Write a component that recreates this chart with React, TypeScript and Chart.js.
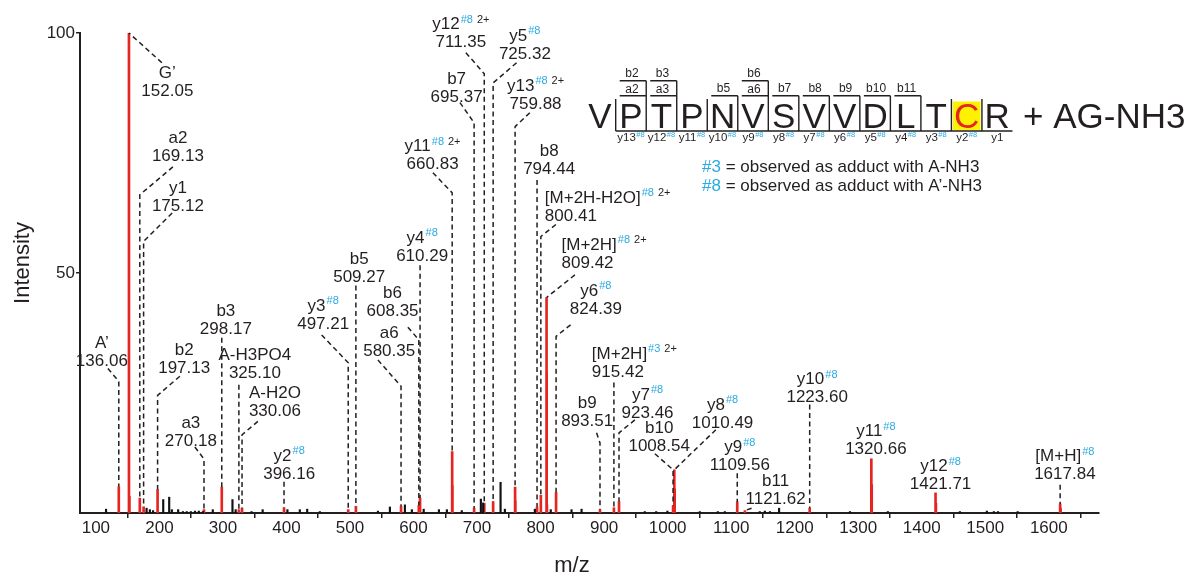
import React, { useEffect, useRef } from "react";
import { Chart, registerables } from "chart.js";

Chart.register(...registerables);

const FONT = "'Liberation Sans', Arial, Helvetica, sans-serif";
const INK = "#231f20";
const RED = "#e52521";
const BLUE = "#29abe2";

// ---------- axis ----------
const X_MIN = 75;
const X_MAX = 1679;
const Y_MIN = 0;
const Y_MAX = 100;
const xTickValues = [100, 200, 300, 400, 500, 600, 700, 800, 900, 1000, 1100, 1200, 1300, 1400, 1500, 1600];
const yTickValues = [50, 100];
const xTitle = "m/z";
const yTitle = "Intensity";

// ---------- assigned peaks ----------
const peakMz = [136.06, 152.05, 169.13, 175.12, 197.13, 270.18, 298.17, 325.10, 330.06, 396.16, 497.21, 509.27, 580.35, 608.35, 610.29, 660.83, 695.37, 711.35, 725.32, 759.88, 794.44, 800.41, 809.42, 824.39, 893.51, 915.42, 923.46, 1008.54, 1010.49, 1109.56, 1121.62, 1223.60, 1320.66, 1421.71, 1617.84];
const peakIntensity = [5.5, 100, 3.1, 1.3, 4.9, 0.7, 5.4, 0.7, 1.0, 1.1, 0.7, 1.4, 1.4, 1.6, 3.1, 12.8, 1.0, 2.0, 2.4, 5.4, 1.3, 3.7, 44.9, 4.3, 0.7, 1.1, 2.4, 1.5, 9.0, 2.3, 0.5, 1.0, 11.3, 4.2, 1.9];
const peakName = ["A\u2019", "G\u2019", "a2", "y1", "b2", "a3", "b3", "A-H3PO4", "A-H2O", "y2", "y3", "b5", "a6", "b6", "y4", "y11", "b7", "y12", "y5", "y13", "b8", "[M+2H-H2O]", "[M+2H]", "y6", "b9", "[M+2H]", "y7", "b10", "y8", "y9", "b11", "y10", "y11", "y12", "[M+H]"];
const peakTag = ["", "", "", "", "", "", "", "", "", "#8", "#8", "", "", "", "#8", "#8", "", "#8", "#8", "#8", "", "#8", "#8", "#8", "", "#3", "#8", "", "#8", "#8", "", "#8", "#8", "#8", "#8"];
const peakCharge = ["", "", "", "", "", "", "", "", "", "", "", "", "", "", "", "2+", "", "2+", "", "2+", "", "2+", "2+", "", "", "2+", "", "", "", "", "", "", "", "", ""];

// isotope peaks of assigned ions
const isotopeMz = [153.05, 661.33, 760.38, 809.92, 810.42, 1011.49, 1321.66, 1422.71, 1618.84];
const isotopeIntensity = [3.5, 5.7, 2.5, 29.5, 1.7, 5.0, 5.9, 2.0, 1.0];

// unassigned peaks
const noiseMz = [116, 179.8, 185, 190, 206, 215.4, 219.6, 229.5, 237, 243, 249.5, 256, 262, 268.5, 284, 315, 320, 345, 362.5, 401.5, 421, 432.6, 452.5, 544, 562.8, 586.4, 597.4, 616, 640, 652.5, 676, 706, 709.6, 737, 743.8, 791, 816, 848.7, 864.5, 964, 982, 999.6, 1050.6, 1079, 1090, 1145, 1153, 1161, 1175.4, 1287, 1346.6, 1460, 1502.5, 1513.5, 1520, 1551];
const noiseIntensity = [0.8, 1.0, 0.7, 0.5, 2.8, 3.3, 0.7, 0.7, 0.3, 0.3, 0.3, 0.4, 0.4, 0.3, 0.7, 2.8, 0.7, 0.3, 0.7, 0.7, 0.7, 0.8, 0.3, 0.4, 1.25, 1.7, 0.7, 0.8, 0.7, 0.7, 0.5, 2.9, 2.1, 6.4, 0.8, 0.8, 0.7, 0.7, 0.8, 0.3, 0.3, 0.4, 0.3, 0.3, 0.3, 0.3, 0.4, 0.3, 1.0, 0.3, 0.3, 0.3, 0.4, 0.3, 0.3, 0.3];

// ---------- label layout (in data units): [labelMz, labelIntensity, align, elbowIntensity, leaderMz, leaderIntensity] ----------
const labelLayout: any[] = [
  [109.4, 31.7, "c", 27.4, 118.9, 30.1],
  [212.5, 87.8, "c", 100, 203.9, 93.8],
  [229.1, 74.3, "c", 66.3, 221.2, 72.1],
  [229.1, 63.8, "c", 56.6, 220.1, 62.5],
  [239.0, 30.1, "c", 24.5, 232.2, 28.5],
  [249.5, 14.9, "c", 11.25, 255.8, 13.75],
  [304.6, 38.3, "c", 36.5, null, null],
  [350.3, 29.0, "c", 26.7, null, null],
  [381.8, 21.2, "c", 16.3, 355.0, 19.1],
  [404.3, 8.1, "c", 6.5, null, null],
  [457.8, 39.4, "c", 31.3, 455.3, 37.1],
  [514.5, 49.2, "c", 47.4, null, null],
  [561.7, 33.7, "c", 26.4, 543.9, 31.9],
  [567.0, 42.0, "c", 36.1, 591.1, 38.7],
  [613.6, 53.5, "c", 51.6, null, null],
  [630.0, 72.6, "c", 66.7, 630.5, 70.9],
  [667.8, 86.6, "c", 81.3, 673.0, 85.5],
  [674.5, 98.0, "c", 91.5, 682.4, 95.9],
  [775.3, 95.6, "c", 89.6, 762.2, 93.8],
  [792.1, 85.2, "c", 80.5, 783.1, 83.4],
  [813.5, 71.5, "c", 69.4, null, null],
  [806.7, 61.9, "l", 57.6, 824.1, 60.1],
  [833.0, 52.1, "l", 44.9, 854.0, 49.6],
  [887.0, 42.5, "c", 36.8, 847.2, 39.2],
  [873.3, 19.1, "c", 14.6, 888.1, 16.7],
  [880.7, 29.3, "l", 27.2, null, null],
  [968.4, 20.8, "c", 16.7, 948.4, 19.4],
  [986.7, 13.9, "c", 9.0, 979.9, 12.35],
  [1086.5, 18.75, "c", 9.0, 1075.9, 17.35],
  [1113.7, 9.85, "c", 8.3, null, null],
  [1169.9, 2.8, "c", 0.5, 1132.1, 1.0],
  [1235.4, 24.0, "c", 22.6, null, null],
  [1327.8, 13.2, "c", null, null, null],
  [1429.6, 5.9, "c", null, null, null],
  [1625.3, 8.0, "c", 5.9, null, null],
];

// ---------- peptide fragment map ----------
const sequence = ["V", "P", "T", "P", "N", "V", "S", "V", "V", "D", "L", "T", "C", "R"];
const bIons = [2, 3, 5, 6, 7, 8, 9, 10, 11];
const aIons = [2, 3, 6];
const yIonTags = ["#8", "#8", "#8", "#8", "#8", "#8", "#8", "#8", "#8", "#8", "#8", "#8", ""]; // y13 ... y1
const modifiedResidue = 13;
const modificationText = "+ AG-NH3";
const legendLines = [
  ["#3", " = observed as adduct with A-NH3"],
  ["#8", " = observed as adduct with A\u2019-NH3"],
];

function font(size: number) {
  return `${size}px ${FONT}`;
}

function drawPeakLabel(ctx: CanvasRenderingContext2D, x: number, y: number, align: string, name: string, tag: string, charge: string, valueText: string) {
  ctx.textBaseline = "middle";
  ctx.font = font(17);
  const wName = ctx.measureText(name).width;
  const wVal = ctx.measureText(valueText).width;
  ctx.font = font(11);
  const wTag = tag ? ctx.measureText(tag).width + 1 : 0;
  const wCh = charge ? ctx.measureText(charge).width + 4 : 0;
  const total = wName + wTag + wCh;
  const nameStart = align === "l" ? x : x - total / 2;
  const valStart = align === "l" ? x : x - wVal / 2;
  const ny = y - 18;
  ctx.textAlign = "left";
  ctx.fillStyle = INK;
  ctx.font = font(17);
  ctx.fillText(valueText, valStart, y);
  ctx.fillText(name, nameStart, ny);
  ctx.font = font(11);
  if (tag) {
    ctx.fillStyle = BLUE;
    ctx.fillText(tag, nameStart + wName + 1, ny - 5);
  }
  if (charge) {
    ctx.fillStyle = INK;
    ctx.fillText(charge, nameStart + wName + wTag + 4, ny - 5);
  }
}

function drawPeptide(ctx: CanvasRenderingContext2D) {
  const x0 = 615.7;
  const w = 30.52;
  const bottom = 131;
  const topY = 99;
  const levelHigh = 80.7;
  const levelLow = 95.7;
  const left = (i: number) => x0 + (i - 2) * w; // 1-based residue index i >= 2
  ctx.save();
  // highlighted residue background
  const hl = left(modifiedResidue);
  ctx.fillStyle = "#fff200";
  ctx.fillRect(hl + 1.5, 101.5, w - 3, 28.5);
  // letters
  ctx.font = font(35);
  ctx.textAlign = "center";
  ctx.textBaseline = "alphabetic";
  sequence.forEach((aa, k) => {
    const i = k + 1;
    const cx = i === 1 ? 600 : left(i) + w / 2;
    ctx.fillStyle = i === modifiedResidue ? RED : INK;
    ctx.fillText(aa, cx, 127.5);
  });
  ctx.textAlign = "left";
  ctx.fillStyle = INK;
  ctx.fillText(modificationText, 1023, 127.5);
  // lines
  ctx.strokeStyle = INK;
  ctx.lineWidth = 1.4;
  ctx.beginPath();
  ctx.moveTo(left(2), bottom);
  ctx.lineTo(left(sequence.length) + w, bottom);
  for (let i = 2; i <= sequence.length; i++) {
    const n = i - 1; // cleavage after residue n
    let top = topY;
    if (bIons.includes(n)) top = aIons.includes(n) ? levelHigh : levelLow;
    ctx.moveTo(left(i), bottom);
    ctx.lineTo(left(i), top);
  }
  bIons.forEach((n) => {
    const lvl = aIons.includes(n) ? levelHigh : levelLow;
    ctx.moveTo(left(n) + 4, lvl);
    ctx.lineTo(left(n) + w, lvl);
  });
  aIons.forEach((n) => {
    ctx.moveTo(left(n) + 4, levelLow);
    ctx.lineTo(left(n) + w, levelLow);
  });
  ctx.stroke();
  // b / a labels
  ctx.font = font(12);
  ctx.textAlign = "center";
  ctx.textBaseline = "middle";
  ctx.fillStyle = INK;
  bIons.forEach((n) => {
    const lvl = aIons.includes(n) ? levelHigh : levelLow;
    ctx.fillText("b" + n, left(n) + w / 2 + 1, lvl - 7.5);
  });
  aIons.forEach((n) => {
    ctx.fillText("a" + n, left(n) + w / 2 + 1, levelLow - 6.5);
  });
  // y labels
  for (let i = 2; i <= sequence.length; i++) {
    const yn = sequence.length + 1 - i;
    const tag = yIonTags[i - 2];
    const cx = left(i) + w / 2;
    ctx.font = font(11.5);
    const t = "y" + yn;
    const wt = ctx.measureText(t).width;
    ctx.font = font(7.5);
    const wg = tag ? ctx.measureText(tag).width + 0.5 : 0;
    const start = cx - (wt + wg) / 2;
    ctx.textAlign = "left";
    ctx.font = font(11.5);
    ctx.fillStyle = INK;
    ctx.fillText(t, start, 137.5);
    if (tag) {
      ctx.font = font(7.5);
      ctx.fillStyle = BLUE;
      ctx.fillText(tag, start + wt + 0.5, 134.5);
    }
  }
  // legend
  ctx.textAlign = "left";
  ctx.textBaseline = "middle";
  legendLines.forEach((ln, k) => {
    const y = 167.3 + k * 19.4;
    ctx.font = font(17);
    ctx.fillStyle = BLUE;
    ctx.fillText(ln[0], 702, y);
    const w0 = ctx.measureText(ln[0]).width;
    ctx.fillStyle = INK;
    ctx.fillText(ln[1], 702 + w0, y);
  });
  ctx.restore();
}

const overlayPlugin = {
  id: "overlay",
  afterDatasetsDraw(chart: any) {
    const ctx: CanvasRenderingContext2D = chart.ctx;
    const xs = chart.scales.x;
    const ys = chart.scales.y;
    ctx.save();
    // leader lines
    ctx.strokeStyle = INK;
    ctx.lineWidth = 1.5;
    ctx.setLineDash([5, 3.5]);
    peakMz.forEach((mz, i) => {
      const L = labelLayout[i];
      const elbow = L[3];
      if (elbow == null) return;
      const px = xs.getPixelForValue(mz);
      const top = ys.getPixelForValue(peakIntensity[i]);
      const ey = ys.getPixelForValue(elbow);
      ctx.beginPath();
      if (L[4] != null) {
        ctx.moveTo(xs.getPixelForValue(L[4]), ys.getPixelForValue(L[5]));
        ctx.lineTo(px, ey);
      } else {
        ctx.moveTo(px, ey);
      }
      ctx.lineTo(px, top);
      ctx.stroke();
    });
    ctx.setLineDash([]);
    // labels
    peakMz.forEach((mz, i) => {
      const L = labelLayout[i];
      drawPeakLabel(ctx, xs.getPixelForValue(L[0]), ys.getPixelForValue(L[1]), L[2], peakName[i], peakTag[i], peakCharge[i], mz.toFixed(2));
    });
    // axis titles
    ctx.fillStyle = INK;
    ctx.font = font(22);
    ctx.textAlign = "center";
    ctx.textBaseline = "middle";
    ctx.fillText(xTitle, 572, 566);
    ctx.save();
    ctx.translate(23, 263);
    ctx.rotate(-Math.PI / 2);
    ctx.fillText(yTitle, 0, 0);
    ctx.restore();
    drawPeptide(ctx);
    ctx.restore();
  },
};

export default function App() {
  const ref = useRef<HTMLCanvasElement>(null);
  useEffect(() => {
    const canvas = ref.current;
    if (!canvas) return;
    const chart = new Chart(canvas, {
      type: "bar",
      data: {
        datasets: [
          {
            label: "unassigned",
            data: noiseMz.map((x, i) => ({ x, y: noiseIntensity[i] })),
            backgroundColor: "#111",
            barThickness: 1.5,
            grouped: false,
          },
          {
            label: "isotopes",
            data: isotopeMz.map((x, i) => ({ x, y: isotopeIntensity[i] })),
            backgroundColor: RED,
            barThickness: 1.5,
            grouped: false,
          },
          {
            label: "assigned",
            data: peakMz.map((x, i) => ({ x, y: peakIntensity[i] })),
            backgroundColor: RED,
            barThickness: 2,
            grouped: false,
          },
        ],
      } as any,
      options: {
        animation: false,
        responsive: false,
        layout: { padding: { left: 0, top: 33, right: 86, bottom: 0 } },
        plugins: { legend: { display: false }, tooltip: { enabled: false } },
        scales: {
          x: {
            type: "linear",
            min: X_MIN,
            max: X_MAX,
            offset: false,
            afterBuildTicks: (s: any) => {
              s.ticks = xTickValues.map((v) => ({ value: v }));
            },
            afterFit: (s: any) => {
              s.height = 67;
            },
            ticks: {
              autoSkip: false,
              maxRotation: 0,
              padding: 0,
              color: INK,
              font: { family: FONT, size: 17 },
              callback: (v: any) => String(v),
            },
            grid: { display: true, drawOnChartArea: false, drawTicks: true, tickLength: 5, color: INK, lineWidth: 1.5 },
            border: { display: true, color: INK, width: 2 },
          },
          y: {
            type: "linear",
            min: Y_MIN,
            max: Y_MAX,
            afterBuildTicks: (s: any) => {
              s.ticks = yTickValues.map((v) => ({ value: v }));
            },
            afterFit: (s: any) => {
              s.width = 80;
            },
            ticks: {
              padding: 1,
              color: INK,
              font: { family: FONT, size: 17 },
              callback: (v: any) => String(v),
            },
            grid: { display: true, drawOnChartArea: false, drawTicks: true, tickLength: 4, color: INK, lineWidth: 1.5 },
            border: { display: true, color: INK, width: 2 },
          },
        },
      } as any,
      plugins: [overlayPlugin],
    });
    return () => chart.destroy();
  }, []);
  return (
    <div style={{ position: "fixed", left: 0, top: 0, width: 1185, height: 580, background: "#ffffff" }}>
      <canvas ref={ref} width={1185} height={580} style={{ display: "block" }} />
    </div>
  );
}
